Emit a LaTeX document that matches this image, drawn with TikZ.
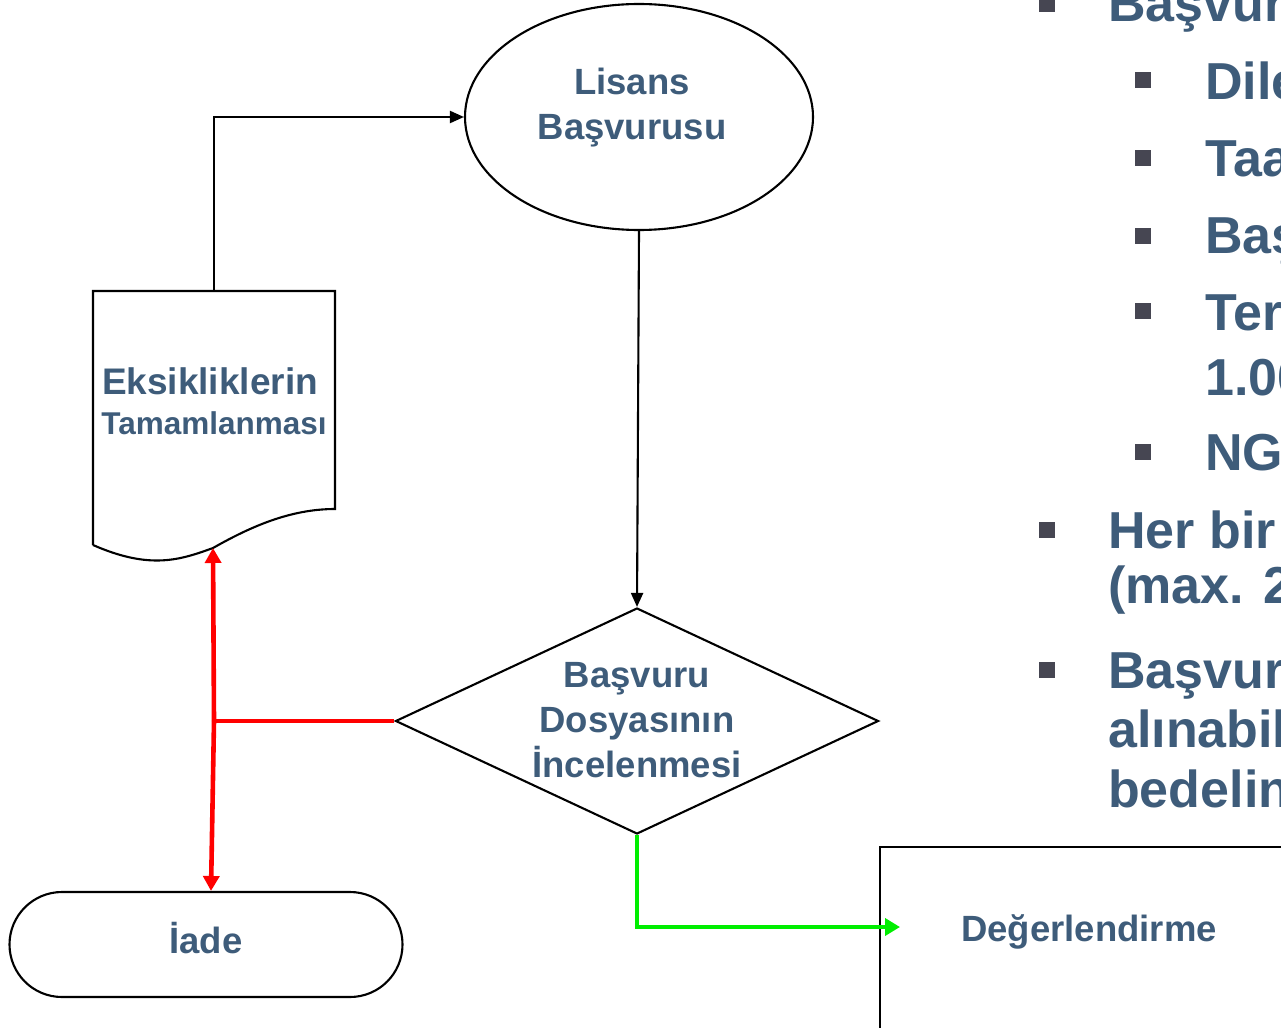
\documentclass[tikz,border=0pt]{standalone}
\usepackage{fontspec}
\setmainfont{Liberation Sans}
\usetikzlibrary{shapes.geometric,shapes.misc,arrows.meta}
\definecolor{txtblue}{RGB}{62,92,122}
\definecolor{bulgray}{RGB}{70,70,82}
\definecolor{rline}{RGB}{255,0,0}
\definecolor{gline}{RGB}{0,238,0}
\begin{document}
\begin{tikzpicture}[x=1pt,y=-1pt,
  lbl/.style={font=\bfseries\fontsize{36.5}{45}\selectfont, text=txtblue, align=center, inner sep=0},
  outline/.style={draw=black, line width=2.1pt},
  blk/.style={draw=black, line width=2.1pt, -{Triangle[length=14pt,width=12pt]}},
  redln/.style={draw=rline, line width=4.6pt},
  redarr/.style={redln, -{Triangle[length=15pt,width=16pt]}},
  grnarr/.style={draw=gline, line width=4.4pt, -{Triangle[length=15pt,width=17pt]}},
  bul/.style={fill=bulgray, minimum size=16pt, inner sep=0, anchor=center},
  btxt/.style={font=\bfseries\fontsize{52}{60}\selectfont, text=txtblue, anchor=base west, inner sep=0},
]
\useasboundingbox (0,0) rectangle (1281,1027);
\clip (0,0) rectangle (1281,1027);

% ---- shapes ----
\node[ellipse, outline, minimum width=348pt, minimum height=226pt, inner sep=0] (lis) at (639,117) {};
\node[lbl] (listxt) at (632,108) {Lisans\\Başvurusu};

\node[diamond, outline, minimum width=483pt, minimum height=226pt, inner sep=0] (dia) at (637,721) {};
\node[lbl] (diatxt) at (637,720) {Başvuru\\Dosyasının\\İncelenmesi};

\node[rounded rectangle, outline, minimum width=393pt, minimum height=105pt, inner sep=0] (iade) at (206,944.5) {};
\node[lbl, anchor=base] (iadetxt) at (206,953) {İade};

% document shape
\coordinate (docTL) at (93,291);
\coordinate (docTR) at (335,291);
\coordinate (docTop) at (214,291);
\coordinate (docBL) at (93,545);
\coordinate (docBR) at (335,509);
\coordinate (docWave) at (213,548);
\draw[outline, line join=miter] (docBL) -- (docTL) -- (docTR) -- (docBR)
  .. controls (290,509) and (250,527) .. (docWave)
  .. controls (180,560) and (150,570) .. (docBL);
\node[lbl, anchor=base, font=\bfseries\fontsize{37}{40}\selectfont] (doc1) at (210,394) {Eksikliklerin};
\node[lbl, anchor=base, font=\bfseries\fontsize{31.5}{36}\selectfont] (doc2) at (214,434) {Tamamlanması};

% evaluation box
\coordinate (degBL) at (880,1040);
\coordinate (degTL) at (880,847);
\coordinate (degTR) at (1300,847);
\draw[outline] (degBL) -- (degTL) -- (degTR);
\node[lbl, anchor=base] (deg) at (1089,941) {Değerlendirme};
\coordinate (gend) at (900,927);

% ---- connectors ----
\draw[blk] (docTop) |- (lis.west);
\draw[blk] (lis.south) -- (dia.north);

\coordinate (rj) at (214,721);
\draw[redln] (dia.west) -- (rj);
\draw[redarr] (rj) -- (docWave);
\draw[redarr] (rj) -- ([xshift=5pt]iade.north);
\draw[grnarr] (dia.south) |- (gend);

% ---- bullet text ----
\node[bul] (b1) at (1047,4) {};
\node[btxt] (t1) at (1108,22) {Başvur};
\node[bul] (s1) at (1143,80) {};
\node[btxt] (u1) at (1205,100) {Dile};
\node[bul] (s2) at (1143,158) {};
\node[btxt] (u2) at (1205,177) {Taa};
\node[bul] (s3) at (1143,236) {};
\node[btxt] (u3) at (1205,253) {Baş};
\node[bul] (s4) at (1143,311) {};
\node[btxt] (u4) at (1205,330) {Ter};
\node[btxt] (u4b) at (1205,395) {1.00};
\node[bul] (s5) at (1143,452) {};
\node[btxt] (u5) at (1205,470) {NG};
\node[bul] (b2) at (1047,530) {};
\node[btxt] (t2) at (1108,548) {Her bir};
\node[btxt] (t2b) at (1108,603) {(max. 2};
\node[bul] (b3) at (1047,670) {};
\node[btxt] (t3) at (1108,688) {Başvur};
\node[btxt] (t3b) at (1108,747) {alınabil};
\node[btxt] (t3c) at (1108,807) {bedelin};
\end{tikzpicture}
\end{document}
